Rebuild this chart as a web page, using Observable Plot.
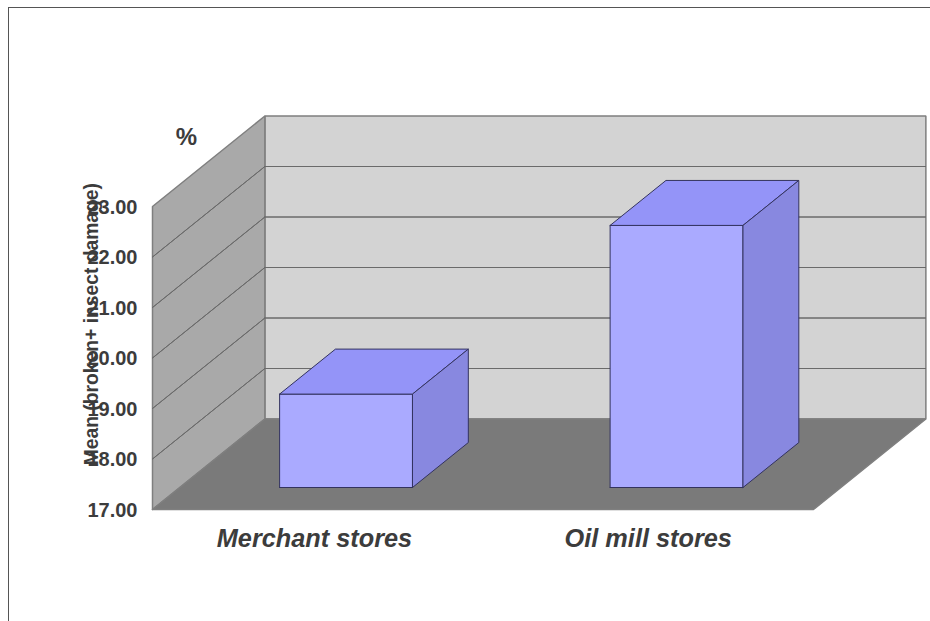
<!DOCTYPE html>
<html>
<head>
<meta charset="utf-8">
<script src="https://cdn.jsdelivr.net/npm/d3@7"></script>
<script src="https://cdn.jsdelivr.net/npm/@observablehq/plot@0.6"></script>
<style>
html,body{margin:0;padding:0;background:#fff;overflow:hidden}
#wrap{position:relative;width:930px;height:621px}
#edge{position:absolute;left:8px;top:7px;right:0;bottom:0;border-left:1px solid #555;border-top:1px solid #555}
#wrap svg{position:absolute;left:0;top:0;background:transparent}
</style>
</head>
<body>
<div id="wrap"><div id="edge"></div></div>
<script>
const categories = ["Merchant stores", "Oil mill stores"];
const values = [18.85, 22.19];
const yTicks = [17, 18, 19, 20, 21, 22, 23];
const yTitle = "Mean (broken+ insect damage)";
const unitLabel = "%";

const yMin = 17, yMax = 23, xMax = categories.length;
// oblique projection: one unit of depth shifts by this many data units
const depthX = 0.34, depthY = 1.792;
const P = (x, y, d = 0) => ({x: x + d * depthX, y: y + d * depthY});
const poly = (pts, fill, stroke, strokeWidth = 1) =>
  Plot.line([...pts, pts[0]], {x: "x", y: "y", fill, stroke, strokeWidth, strokeLinejoin: "miter"});

const walls = [
  poly([P(0, yMin, 1), P(xMax, yMin, 1), P(xMax, yMax, 1), P(0, yMax, 1)], "#d3d3d3", "#7f7f7f", 1.5),
  poly([P(0, yMin), P(0, yMin, 1), P(0, yMax, 1), P(0, yMax)], "#a9a9a9", "#7f7f7f", 1.5),
  poly([P(0, yMin), P(xMax, yMin), P(xMax, yMin, 1), P(0, yMin, 1)], "#7a7a7a", "#7f7f7f", 1.5)
];
const grid = yTicks.slice(1, -1).flatMap(t => [
  poly([P(0, t, 1), P(xMax, t, 1)], "none", "#6a6a6a", 1),
  poly([P(0, t), P(0, t, 1)], "none", "#6a6a6a", 1)
]);
const bars = values.flatMap((v, i) => {
  const a = i + 0.302, b = i + 0.704, d0 = 0.243, d1 = 0.74, line = "#33335f";
  return [
    poly([P(a, yMin, d0), P(b, yMin, d0), P(b, v, d0), P(a, v, d0)], "#aaaaff", line),
    poly([P(a, v, d0), P(b, v, d0), P(b, v, d1), P(a, v, d1)], "#9494f8", line),
    poly([P(b, yMin, d0), P(b, yMin, d1), P(b, v, d1), P(b, v, d0)], "#8888e0", line)
  ];
});

const chart = Plot.plot({
  width: 930, height: 621,
  marginLeft: 152, marginRight: 117, marginTop: 206, marginBottom: 112,
  style: {fontFamily: "'Liberation Sans'", color: "#3c3c3c", background: "transparent"},
  x: {domain: [0, xMax]},
  y: {domain: [yMin, yMax]},
  marks: [
    ...walls, ...grid, ...bars,
    Plot.axisY({ticks: yTicks, tickFormat: d => d.toFixed(2), tickSize: 0, tickPadding: 15, dy: 1,
      fontSize: 20, fontWeight: "bold", fill: "#3c3c3c", label: null}),
    Plot.axisX({ticks: [0.49, 1.5], tickFormat: d => categories[Math.floor(d)],
      tickSize: 0, tickPadding: 20, fontSize: 25.3, fontWeight: "bold", fontStyle: "italic", fill: "#3c3c3c", label: null}),
    Plot.text([unitLabel], {x: 0.103, y: 24.37, text: d => d, fontSize: 24, fontWeight: "bold", fill: "#3c3c3c"}),
    Plot.text([yTitle], {x: -0.183, y: 20.67, text: d => d, rotate: -90, fontSize: 19.3, fontWeight: "bold", fill: "#3c3c3c"})
  ]
});
document.getElementById("wrap").appendChild(chart);
</script>
</body>
</html>
